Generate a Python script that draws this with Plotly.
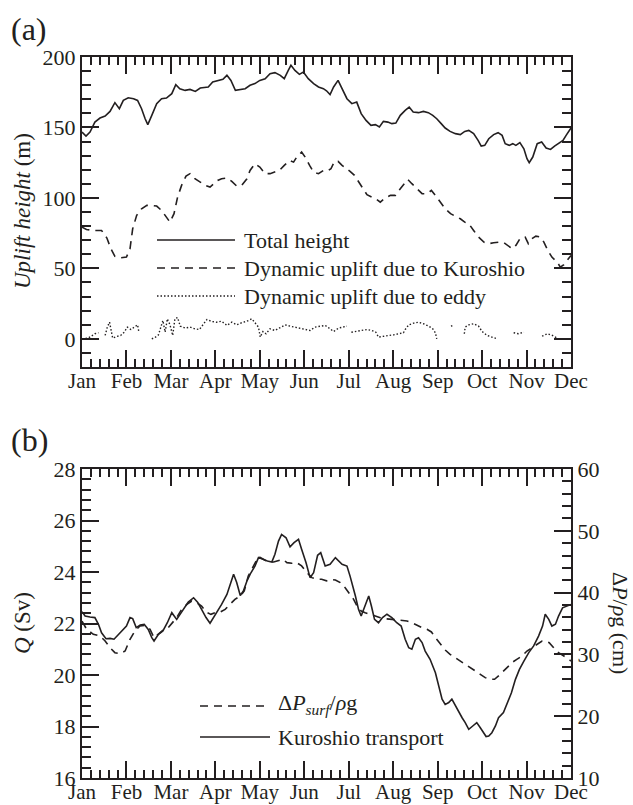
import plotly.graph_objects as go

# ---------------- data ----------------
months = ["Jan", "Feb", "Mar", "Apr", "May", "Jun", "Jul", "Aug", "Sep", "Oct", "Nov", "Dec"]
month_pos = list(range(12))

# Panel (a): total height (m) vs month position (0 = Jan ... 11 = Dec)
total_m = [0.0, 0.09, 0.18, 0.29, 0.405, 0.52, 0.63, 0.74, 0.84, 0.93, 1.04, 1.16, 1.25, 1.34, 1.42, 1.48,
           1.57, 1.68, 1.79, 1.9, 2.02, 2.11, 2.2, 2.32, 2.43, 2.55, 2.66, 2.77, 2.84, 2.94, 3.05, 3.17,
           3.26, 3.35, 3.45, 3.56, 3.67, 3.78, 3.89, 4.0, 4.12, 4.23, 4.34, 4.46, 4.55, 4.64, 4.70, 4.79,
           4.89, 4.98, 5.09, 5.21, 5.32, 5.43, 5.5, 5.58, 5.66, 5.76, 5.85, 5.96, 6.07, 6.18, 6.28, 6.39,
           6.5, 6.6, 6.69, 6.78, 6.88, 6.97, 7.06, 7.16, 7.27, 7.36, 7.45, 7.57, 7.68, 7.79, 7.89, 7.98,
           8.08, 8.17, 8.28, 8.4, 8.51, 8.61, 8.7, 8.81, 8.91, 8.98, 9.06, 9.15, 9.26, 9.36, 9.45, 9.52,
           9.61, 9.69, 9.76, 9.85, 9.94, 10.01, 10.06, 10.14, 10.24, 10.34, 10.44, 10.54, 10.63, 10.73,
           10.82, 10.89, 11.0]
total_h = [146.7, 143.9, 146.7, 153.8, 156.7, 158.1, 161.4, 167.6, 163.3, 169.2, 171.1, 170.4, 169.2, 163.3,
           156.2, 152.0, 158.6, 166.9, 170.4, 170.9, 174.0, 180.4, 177.5, 176.3, 177.0, 175.6, 178.0, 178.7,
           178.7, 182.3, 183.4, 184.2, 187.0, 183.4, 176.3, 177.0, 177.5, 179.9, 181.1, 183.4, 184.6, 188.2,
           188.9, 187.0, 184.6, 190.5, 194.1, 190.5, 187.7, 189.4, 184.6, 181.1, 178.7, 177.5, 176.0, 173.3,
           178.7, 183.4, 177.5, 170.4, 166.9, 168.0, 159.8, 155.0, 151.5, 152.0, 150.3, 154.3, 153.8, 152.7,
           153.1, 158.6, 162.1, 164.5, 161.0, 160.5, 161.4, 160.5, 158.6, 156.2, 152.7, 149.6, 147.2, 145.6,
           144.9, 147.2, 147.9, 145.6, 140.8, 136.8, 137.3, 142.0, 144.9, 146.3, 144.4, 138.5, 137.3, 138.5,
           137.3, 139.2, 134.9, 127.8, 125.0, 129.0, 138.5, 139.7, 135.4, 134.4, 136.8, 139.2, 140.8, 144.4,
           149.6]

# Panel (a): dynamic uplift due to Kuroshio (m)
kuro_m = [0.0, 0.1, 0.26, 0.44, 0.56, 0.65, 0.74, 0.86, 1.0, 1.08, 1.14, 1.23, 1.34, 1.46, 1.57, 1.68, 1.79,
          1.89, 1.98, 2.07, 2.15, 2.24, 2.34, 2.43, 2.54, 2.66, 2.77, 2.88, 2.96, 3.05, 3.14, 3.26, 3.37,
          3.48, 3.59, 3.71, 3.78, 3.89, 4.0, 4.12, 4.23, 4.34, 4.44, 4.55, 4.67, 4.76, 4.83, 4.94, 5.02,
          5.12, 5.21, 5.32, 5.43, 5.52, 5.6, 5.68, 5.76, 5.85, 5.94, 6.03, 6.13, 6.22, 6.31, 6.41, 6.52,
          6.63, 6.71, 6.82, 6.94, 7.05, 7.16, 7.26, 7.33, 7.42, 7.54, 7.65, 7.76, 7.86, 7.95, 8.06, 8.17,
          8.29, 8.4, 8.51, 8.61, 8.7, 8.81, 8.92, 9.04, 9.15, 9.26, 9.38, 9.49, 9.58, 9.68, 9.76, 9.86,
          9.97, 10.04, 10.12, 10.21, 10.31, 10.39, 10.48, 10.57, 10.69, 10.76, 10.84, 10.91, 11.0]
kuro_h = [79.3, 77.6, 76.9, 76.9, 71.5, 63.9, 58.5, 57.5, 58.0, 63.9, 78.1, 87.6, 92.3, 94.7, 94.7, 94.2, 91.1,
          86.4, 82.8, 88.8, 100.6, 108.9, 115.5, 117.2, 113.6, 111.2, 108.9, 107.7, 109.6, 112.4, 113.6,
          114.1, 111.7, 108.4, 108.9, 113.6, 119.5, 124.3, 121.9, 117.2, 117.2, 118.3, 119.5, 123.1, 126.6,
          125.4, 129.0, 132.5, 129.0, 123.1, 118.3, 117.2, 119.5, 119.0, 120.7, 125.9, 125.9, 123.1, 121.2,
          118.8, 116.0, 111.7, 106.5, 102.3, 100.6, 98.9, 97.0, 99.9, 101.8, 101.8, 106.5, 110.5, 113.1,
          110.1, 106.5, 103.0, 103.0, 105.3, 101.8, 97.0, 92.3, 88.8, 86.9, 85.2, 82.8, 81.7, 76.9, 72.2,
          68.6, 67.5, 68.2, 68.6, 68.2, 66.3, 63.9, 66.3, 71.5, 72.2, 67.5, 71.0, 72.9, 72.2, 68.6, 62.7,
          58.0, 54.4, 50.9, 52.6, 55.6, 59.2]

# Panel (a): dynamic uplift due to eddy (m); None marks gaps in the record
eddy_m = [0.0, 0.14, 0.29, 0.37, 0.45,
          0.52, 0.57, 0.62, 0.65, 0.69, 0.78, 0.87, 0.95, 1.02, 1.10, 1.17, 1.25, 1.28, 1.4,
          1.57, 1.64, 1.72, 1.77, 1.82, 1.87, 1.92, 1.98, 2.04, 2.09, 2.15, 2.21, 2.32, 2.43, 2.54, 2.64,
          2.73, 2.81, 2.92, 3.03, 3.14, 3.26, 3.37, 3.48, 3.59, 3.71, 3.82, 3.89, 3.97, 4.01, 4.07, 4.14,
          4.23, 4.34, 4.46, 4.57, 4.68, 4.79, 4.91, 5.02, 5.13, 5.24, 5.36, 5.47, 5.58, 5.66, 5.77, 5.88,
          5.96, 6.01,
          6.06, 6.18, 6.30, 6.41, 6.52, 6.61, 6.67, 6.78, 6.90, 7.01, 7.12, 7.23, 7.27, 7.35, 7.46, 7.57,
          7.68, 7.80, 7.89, 7.95, 7.98, 8.1,
          8.30, 8.33, 8.45,
          8.60, 8.62, 8.70, 8.81, 8.92, 9.0, 9.11, 9.22, 9.34, 9.5,
          9.71, 9.82, 9.94, 10.1,
          10.35, 10.47, 10.58, 10.69]
eddy_h = [0.0, 0.5, 3.6, 4.3, None,
          2.4, 8.3, 11.8, 5.9, 0.5, 1.7, 2.4, 4.7, 8.3, 6.6, 8.3, 9.9, 4.7, None,
          0.0, 0.9, 2.8, 7.6, 13.0, 4.7, 14.2, 9.9, 2.4, 14.2, 15.1, 9.0, 7.6, 8.3, 7.1, 6.6,
          10.7, 13.7, 12.3, 11.8, 12.5, 9.5, 11.8, 9.9, 11.4, 12.5, 14.2, 11.8, 8.3, 1.2, 5.2, 3.6,
          7.1, 5.9, 8.3, 9.9, 9.0, 8.3, 7.6, 7.1, 5.9, 8.3, 9.0, 9.5, 7.1, 5.2, 7.6, 8.3,
          9.0, None,
          4.7, 5.2, 5.9, 6.6, 5.9, 4.7, 1.2, 1.9, 2.4, 2.8, 3.6, 4.3, 6.6, 9.9, 11.1, 11.8,
          10.7, 9.0, 7.1, 4.3, 0.0, None,
          9.0, 9.3, None,
          3.6, 8.3, 9.9, 10.7, 9.0, 5.2, 2.4, 1.2, 0.0, None,
          4.3, 3.6, 4.7, None,
          1.9, 3.6, 2.4, 0.5]

# Panel (b): Kuroshio transport Q (Sv)
q_m = [0.0, 0.07, 0.18, 0.29, 0.37, 0.44, 0.54, 0.63, 0.72, 0.82, 0.92, 1.0, 1.08, 1.14, 1.22, 1.31, 1.40,
       1.49, 1.57, 1.62, 1.72, 1.82, 1.92, 2.02, 2.13, 2.21, 2.30, 2.39, 2.51, 2.6, 2.69, 2.79, 2.88, 2.96,
       3.05, 3.14, 3.26, 3.35, 3.41, 3.48, 3.56, 3.63, 3.71, 3.80, 3.89, 3.97, 4.07, 4.17, 4.27, 4.34, 4.42,
       4.49, 4.59, 4.68, 4.77, 4.87, 4.94, 5.04, 5.13, 5.21, 5.30, 5.37, 5.47, 5.58, 5.70, 5.85, 5.96, 6.03,
       6.15, 6.22, 6.28, 6.36, 6.45, 6.51, 6.58, 6.67, 6.76, 6.86, 6.97, 7.08, 7.18, 7.27, 7.35, 7.42, 7.50,
       7.57, 7.65, 7.72, 7.83, 7.95, 8.02, 8.10, 8.17, 8.25, 8.32, 8.40, 8.47, 8.55, 8.62, 8.70, 8.79, 8.88,
       8.96, 9.03, 9.09, 9.15, 9.22, 9.30, 9.37, 9.48, 9.56, 9.66, 9.75, 9.84, 9.94, 10.05, 10.16, 10.27,
       10.36, 10.42, 10.50, 10.57, 10.65, 10.72, 10.81, 10.91, 11.0]
q_sv = [22.46, 22.29, 22.25, 22.23, 21.97, 21.64, 21.41, 21.42, 21.39, 21.58, 21.75, 21.90, 22.23, 22.19,
        21.84, 21.94, 21.97, 21.77, 21.45, 21.32, 21.58, 21.71, 22.03, 22.42, 22.16, 22.36, 22.58, 22.83,
        23.00, 22.83, 22.55, 22.23, 22.01, 22.23, 22.49, 22.74, 23.13, 23.61, 23.91, 23.59, 23.09, 23.26,
        23.65, 23.97, 24.23, 24.56, 24.49, 24.43, 24.39, 24.69, 25.20, 25.46, 25.33, 24.98, 25.14, 25.27,
        24.88, 24.36, 23.78, 23.97, 24.65, 24.75, 24.23, 24.30, 24.56, 24.30, 24.23, 23.84, 23.07, 22.55,
        22.29, 22.68, 23.07, 22.68, 22.16, 22.03, 22.23, 22.36, 22.23, 22.03, 21.90, 21.39, 21.06, 21.00,
        21.39, 21.45, 21.26, 20.93, 20.61, 20.09, 19.57, 19.06, 18.86, 18.93, 19.06, 18.80, 18.54, 18.34,
        18.15, 17.89, 18.02, 18.15, 17.95, 17.76, 17.61, 17.63, 17.76, 18.02, 18.34, 18.54, 18.86, 19.31,
        19.83, 20.22, 20.54, 20.87, 21.13, 21.51, 21.90, 22.36, 22.16, 21.90, 21.97, 22.29, 22.61, 22.68,
        22.74]

# Panel (b): surface pressure difference dP_surf / (rho g) (cm)
dp_m = [0.0, 0.105, 0.255, 0.405, 0.52, 0.63, 0.74, 0.855, 0.97, 1.08, 1.19, 1.305, 1.42, 1.53, 1.62, 1.72,
        1.83, 1.94, 2.04, 2.13, 2.24, 2.36, 2.47, 2.58, 2.69, 2.79, 2.90, 2.99, 3.11, 3.22, 3.33, 3.44, 3.56,
        3.65, 3.74, 3.86, 3.97, 4.08, 4.19, 4.31, 4.42, 4.52, 4.61, 4.72, 4.83, 4.94, 5.06, 5.17, 5.28, 5.39,
        5.5, 5.58, 5.70, 5.81, 5.92, 6.03, 6.11, 6.18, 6.28, 6.37, 6.48, 6.60, 6.71, 6.82, 6.97, 7.08, 7.20,
        7.31, 7.42, 7.53, 7.65, 7.76, 7.86, 7.95, 8.06, 8.17, 8.28, 8.40, 8.51, 8.62, 8.74, 8.85, 8.96, 9.07,
        9.18, 9.28, 9.37, 9.48, 9.60, 9.69, 9.78, 9.90, 10.01, 10.12, 10.24, 10.35, 10.42, 10.51, 10.61,
        10.72, 10.84, 10.93, 11.0]
dp_cm = [35.4, 34.06, 33.25, 32.98, 32.17, 31.09, 30.28, 30.12, 30.55, 32.44, 33.79, 34.60, 34.70, 34.06,
         32.71, 33.25, 33.95, 34.33, 35.14, 35.95, 37.29, 38.10, 38.64, 38.37, 37.83, 36.86, 36.48, 36.75,
         36.86, 37.29, 38.10, 38.91, 39.45, 40.26, 42.69, 44.31, 45.82, 45.39, 44.95, 44.95, 45.22, 45.39,
         44.85, 44.74, 44.85, 44.31, 43.23, 42.42, 42.15, 42.15, 41.9, 42.15, 42.04, 41.61, 40.80, 39.72,
         38.91, 37.94, 37.02, 36.75, 36.48, 36.21, 35.94, 35.78, 35.68, 35.57, 35.57, 35.41, 35.14, 34.70,
         34.33, 34.06, 33.63, 32.71, 31.63, 30.71, 30.01, 29.47, 28.93, 28.39, 27.85, 27.31, 26.78, 26.24,
         25.97, 25.97, 26.51, 27.31, 28.12, 28.77, 29.20, 29.74, 30.55, 31.09, 31.63, 32.17, 32.17, 31.90,
         31.09, 30.28, 29.74, 29.20, 28.93]

# ---------------- styling ----------------
ink = "#231f20"
serif = "'Liberation Serif', 'Times New Roman', Times, 'DejaVu Serif', serif"
W, H = 633, 805
ML, MR, MT, MB = 82, 62, 57, 27
PW, PH = W - ML - MR, H - MT - MB


def px_x(p):
    return (p - ML) / PW


def px_y(p):
    return (H - MB - p) / PH


fig = go.Figure()
lw = 1.6
fig.add_trace(go.Scatter(x=total_m, y=total_h, mode="lines", line=dict(color=ink, width=lw),
                         xaxis="x", yaxis="y", showlegend=False))
fig.add_trace(go.Scatter(x=kuro_m, y=kuro_h, mode="lines", line=dict(color=ink, width=lw, dash="8px,6px"),
                         xaxis="x", yaxis="y", showlegend=False))
fig.add_trace(go.Scatter(x=eddy_m, y=eddy_h, mode="lines", connectgaps=False,
                         line=dict(color=ink, width=1.4, dash="1.5px,2px"),
                         xaxis="x", yaxis="y", showlegend=False))
fig.add_trace(go.Scatter(x=dp_m, y=dp_cm, mode="lines", line=dict(color=ink, width=lw, dash="8px,6px"),
                         xaxis="x2", yaxis="y3", showlegend=False))
fig.add_trace(go.Scatter(x=q_m, y=q_sv, mode="lines", line=dict(color=ink, width=lw),
                         xaxis="x2", yaxis="y2", showlegend=False))

tickfont_y = dict(family=serif, size=22, color=ink)
tickfont_x = dict(family=serif, size=21, color=ink)


def xax(anchor, show_labels):
    return dict(anchor=anchor, domain=[0, 1], range=[0, 11], tickmode="array", tickvals=month_pos,
                ticktext=months, showticklabels=show_labels, ticks="inside", ticklen=17, tickwidth=1.5,
                tickcolor=ink, showline=True, linewidth=2, linecolor=ink, mirror="ticks",
                showgrid=False, zeroline=False, tickfont=tickfont_x, automargin=False,
                ticklabelstandoff=-6,
                minor=dict(tickmode="linear", tick0=0, dtick=0.2, ticks="inside", ticklen=8,
                           tickwidth=1.5, tickcolor=ink, showgrid=False))


def yax(anchor, domain, rng, dtick, mdtick, mirror, side="left", overlaying=None):
    d = dict(anchor=anchor, range=rng, tickmode="linear", tick0=0, dtick=dtick, ticks="inside",
             ticklen=17, tickwidth=1.5, tickcolor=ink, showline=True, linewidth=2, linecolor=ink,
             mirror=mirror, showgrid=False, zeroline=False, tickfont=tickfont_y, side=side,
             automargin=False,
             minor=dict(tickmode="linear", tick0=0, dtick=mdtick, ticks="inside", ticklen=9,
                        tickwidth=1.5, tickcolor=ink, showgrid=False))
    if domain is not None:
        d["domain"] = domain
    if overlaying:
        d["overlaying"] = overlaying
    return d


ya_dom = [px_y(367), 1.0]
yb_dom = [0.0, px_y(469)]

fig.update_layout(
    width=W, height=H, autosize=False,
    margin=dict(l=ML, r=MR, t=MT, b=MB, pad=0, autoexpand=False),
    paper_bgcolor="white", plot_bgcolor="white",
    showlegend=False,
    font=dict(family=serif, color=ink),
    xaxis=xax("y", True),
    yaxis=yax("x", ya_dom, [-20, 200], 50, 10, "ticks"),
    xaxis2=xax("y2", True),
    yaxis2=yax("x2", yb_dom, [16, 28], 2, 0.4, True),
    yaxis3=yax("x2", None, [10, 60], 10, 2, False, side="right", overlaying="y2"),
)

ann = []
# panel labels
ann.append(dict(text="(a)", x=px_x(9), y=px_y(29), xanchor="left", yanchor="middle"))
ann.append(dict(text="(b)", x=px_x(9), y=px_y(440), xanchor="left", yanchor="middle"))
for a in ann:
    a.update(xref="paper", yref="paper", showarrow=False, font=dict(family=serif, size=32, color=ink))

# axis titles
titles = [
    dict(text="<i>Uplift height</i> (m)", x=px_x(22), y=px_y(211), textangle=-90, size=23),
    dict(text="<i>Q</i> (Sv)", x=px_x(22), y=px_y(623), textangle=-90, size=23),
    dict(text="Δ<i>P</i>/<i>ρ</i>g (cm)", x=px_x(621), y=px_y(623), textangle=90, size=22),
]
for t in titles:
    sz = t.pop("size")
    t.update(xref="paper", yref="paper", showarrow=False, xanchor="center", yanchor="middle",
             font=dict(family=serif, size=sz, color=ink))
    ann.append(t)

# legend texts
leg_font = dict(family=serif, size=22, color=ink)
leg_a = [("Total height", 240), ("Dynamic uplift due to Kuroshio", 268), ("Dynamic uplift due to eddy", 296)]
for txt, py in leg_a:
    ann.append(dict(text=txt, x=px_x(242), y=px_y(py), xref="paper", yref="paper", xanchor="left",
                    yanchor="middle", showarrow=False, font=leg_font))
leg_b = [("Δ<i>P</i><sub><i>surf</i></sub>/<i>ρ</i>g", 704), ("Kuroshio transport", 737)]
for txt, py in leg_b:
    ann.append(dict(text=txt, x=px_x(276), y=px_y(py), xref="paper", yref="paper", xanchor="left",
                    yanchor="middle", showarrow=False, font=leg_font))
fig.update_layout(annotations=ann)

# legend sample lines
shapes = []
for (dash, py) in [("solid", 240), ("8px,6px", 268), ("1.5px,2px", 296)]:
    shapes.append(dict(type="line", xref="paper", yref="paper", x0=px_x(157), x1=px_x(235),
                       y0=px_y(py), y1=px_y(py), line=dict(color=ink, width=1.6, dash=dash)))
for (dash, py) in [("8px,6px", 706), ("solid", 737)]:
    shapes.append(dict(type="line", xref="paper", yref="paper", x0=px_x(200), x1=px_x(270),
                       y0=px_y(py), y1=px_y(py), line=dict(color=ink, width=1.6, dash=dash)))
fig.update_layout(shapes=shapes)

fig.write_html("out.html")
